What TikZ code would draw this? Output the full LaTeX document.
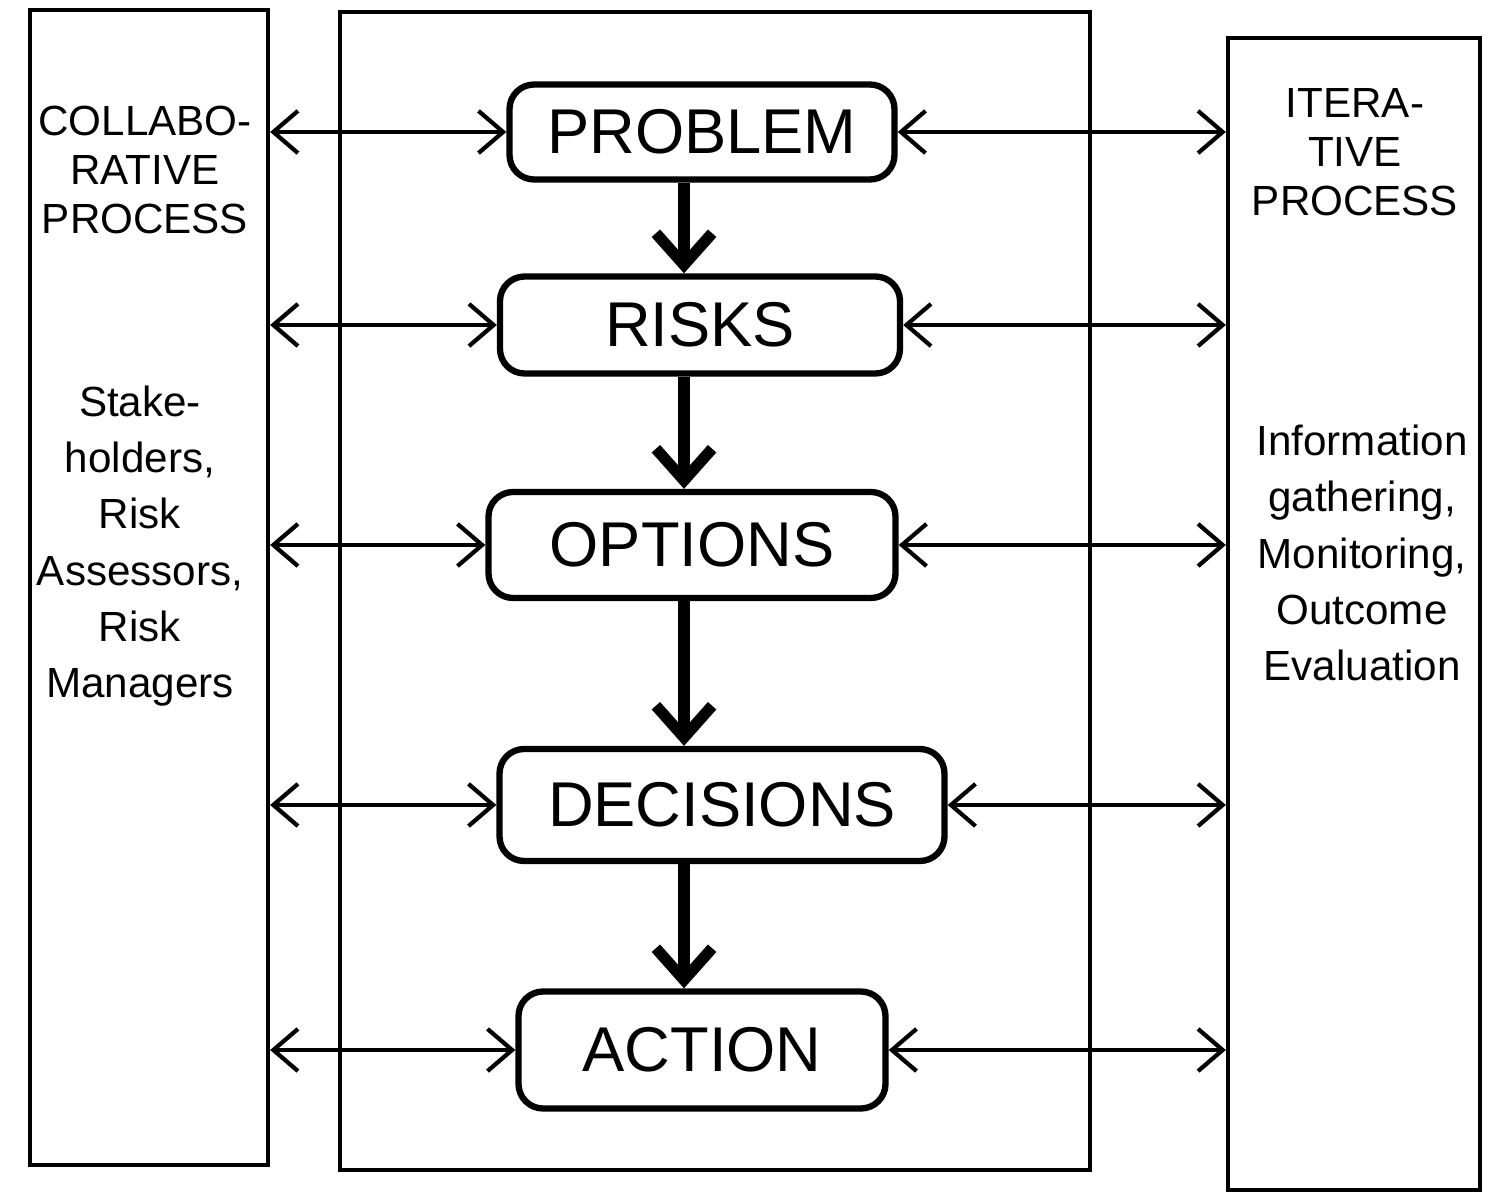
\documentclass[tikz,border=0pt]{standalone}
\usepackage{fontspec}
\setmainfont{Liberation Sans}
\usetikzlibrary{arrows.meta}

\begin{document}
\begin{tikzpicture}[x=1cm, y=1cm,
    every node/.style={font=\fontsize{12}{16}\selectfont, align=center},
    column/.style={draw, line width=1.2pt, inner sep=0pt},
    stepbox/.style={draw, line width=1.8pt, rounded corners=7pt, inner sep=0pt, font=\fontsize{18}{22}\selectfont},
    link/.style={line width=1.2pt, {Straight Barb[length=7pt,width=12pt]}-{Straight Barb[length=7pt,width=12pt]}},
    flow/.style={line width=3.2pt, -{Straight Barb[length=9pt,width=16pt]}}]

    \useasboundingbox (0,0) rectangle (14.92,11.97);

    % === Three columns ===
    \node[column, minimum width=2.38cm, minimum height=11.55cm] (colL) at (1.49,6.095) {};
    \node[column, minimum width=7.50cm, minimum height=11.58cm] (colM) at (7.15,6.06) {};
    \node[column, minimum width=2.52cm, minimum height=11.52cm] (colR) at (13.54,5.83) {};

    % === Steps ===
    \node[stepbox, minimum width=3.85cm, minimum height=0.95cm] (prob) at (7.02,10.65) {PROBLEM};
    \node[stepbox, minimum width=4.00cm, minimum height=0.97cm] (risks) at (7.00,8.72) {RISKS};
    \node[stepbox, minimum width=4.07cm, minimum height=1.06cm] (opts) at (6.92,6.52) {OPTIONS};
    \node[stepbox, minimum width=4.45cm, minimum height=1.12cm] (dec) at (7.22,3.92) {DECISIONS};
    \node[stepbox, minimum width=3.67cm, minimum height=1.17cm] (act) at (7.02,1.47) {ACTION};
    \coordinate (axis) at (6.84,0);

    % === Side labels ===
    \node[font=\fontsize{12}{14}\selectfont] (collab) at (1.45,10.27) {COLLABO-\\RATIVE\\PROCESS};
    \node (actors) at (1.40,6.51) {Stake-\\holders,\\Risk\\Assessors,\\Risk\\Managers};
    \node[font=\fontsize{12}{14}\selectfont] (iter) at (13.55,10.45) {ITERA-\\TIVE\\PROCESS};
    \node (tasks) at (13.62,6.44) {Information\\gathering,\\Monitoring,\\Outcome\\Evaluation};

    % === Flow down ===
    \draw[flow] (axis |- prob.south) -- (axis |- risks.north);
    \draw[flow] (axis |- risks.south) -- (axis |- opts.north);
    \draw[flow] (axis |- opts.south) -- (axis |- dec.north);
    \draw[flow] (axis |- dec.south) -- (axis |- act.north);

    % === Links to the columns ===
    \foreach \s in {prob, risks, opts, dec, act} {
        \draw[link] (colL.east |- \s.west) -- (\s.west);
        \draw[link] (\s.east) -- (colR.west |- \s.east);
    }
\end{tikzpicture}
\end{document}
